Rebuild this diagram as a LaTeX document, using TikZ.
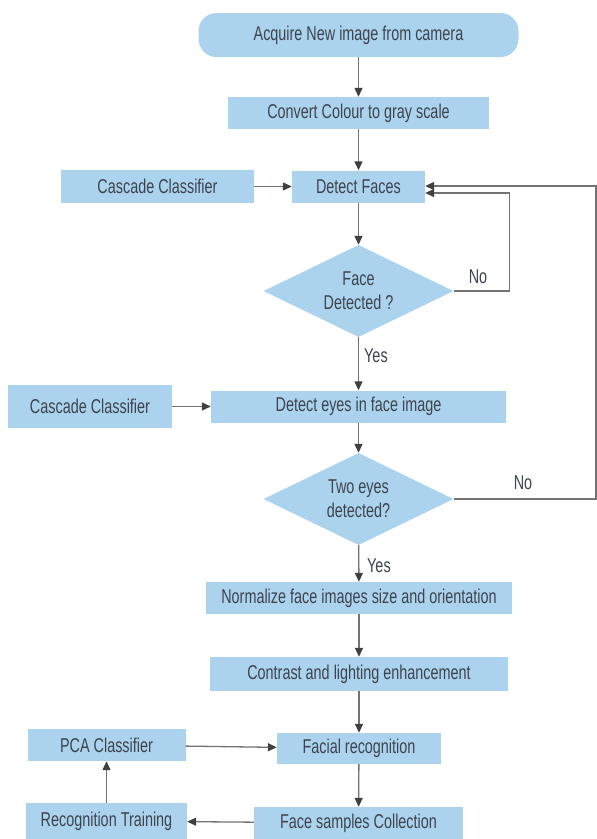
\documentclass[tikz,border=0pt]{standalone}
\usepackage{fontspec}
\setmainfont{Liberation Sans}[FakeStretch=0.72]
\usetikzlibrary{shapes.geometric,arrows.meta}
\definecolor{boxfill}{RGB}{171,211,238}
\definecolor{txt}{RGB}{60,68,80}
\definecolor{ln}{RGB}{115,115,115}
\definecolor{tip}{RGB}{64,64,64}
\begin{document}
\begin{tikzpicture}[x=1pt,y=-1pt,
  every node/.style={font=\fontsize{20}{24}\selectfont, text=txt},
  box/.style={rectangle, fill=boxfill, inner sep=0pt, align=center},
  dia/.style={diamond, fill=boxfill, inner sep=0pt, aspect=2, align=center,
              minimum width=190pt, minimum height=92pt},
  lbl/.style={inner sep=0pt},
  conn/.style={draw=ln, line width=1.3pt, -{Triangle[length=9pt,width=8pt,color=tip]}}]
\path[use as bounding box, fill=white] (0,0) rectangle (597,839);

\node[box, rounded corners=18pt, minimum width=320pt, minimum height=44pt] (acq) at (358.5,35) {Acquire New image from camera};
\node[box, minimum width=261pt, minimum height=32pt] (conv) at (358.5,113) {Convert Colour to gray scale};
\node[box, minimum width=193pt, minimum height=33pt] (casc1) at (157.5,186.5) {Cascade Classifier};
\node[box, minimum width=133pt, minimum height=32pt] (detf) at (358.5,186.5) {Detect Faces};
\node[dia] (dia1) at (358.5,291) {Face\\Detected ?};
\node[lbl, anchor=west] (yes1) at (364,356) {Yes};
\node[lbl] (no1) at (478,277) {No};

\node[box, minimum width=164pt, minimum height=43pt] (casc2) at (90,406.5) {Cascade Classifier};
\node[box, minimum width=295pt, minimum height=32pt] (dete) at (358.5,406.5) {Detect eyes in face image};
\node[dia] (dia2) at (358.5,499) {Two eyes\\detected?};
\node[lbl] (no2) at (523,483) {No};
\node[lbl, anchor=west] (yes2) at (367,566) {Yes};

\node[box, minimum width=306pt, minimum height=32pt] (norm) at (359,598) {Normalize face images size and orientation};
\node[box, minimum width=298pt, minimum height=34pt] (cont) at (359,674) {Contrast and lighting enhancement};
\node[box, minimum width=164pt, minimum height=31pt] (facr) at (359,748.5) {Facial recognition};
\node[box, minimum width=158pt, minimum height=32pt] (pca) at (106.5,745) {PCA Classifier};
\node[box, minimum width=161pt, minimum height=36pt] (rect) at (106.5,821) {Recognition Training};
\node[box, minimum width=209pt, minimum height=32pt] (fsc) at (358.5,823) {Face samples Collection};

\draw[conn] (acq) -- (conv);
\draw[conn] (conv) -- (detf);
\draw[conn] (casc1) -- (detf);
\draw[conn] (detf) -- (dia1);
\draw[conn] (dia1.east) -- ++(56,0) |- ([yshift=-6.5pt]detf.east);
\draw[conn] (dia1) -- (dete);
\draw[conn] (casc2) -- (dete);
\draw[conn] (dete) -- (dia2);
\draw[conn] (dia2.east) -| (596,186) -- ([yshift=0.5pt]detf.east);
\draw[conn] (dia2) -- (norm);
\draw[conn] (norm) -- (cont);
\draw[conn] (cont) -- (facr);
\draw[conn] (facr) -- (fsc);
\draw[conn] (pca) -- (facr);
\draw[conn] (fsc) -- (rect);
\draw[conn] (rect) -- (pca);
\end{tikzpicture}
\end{document}
